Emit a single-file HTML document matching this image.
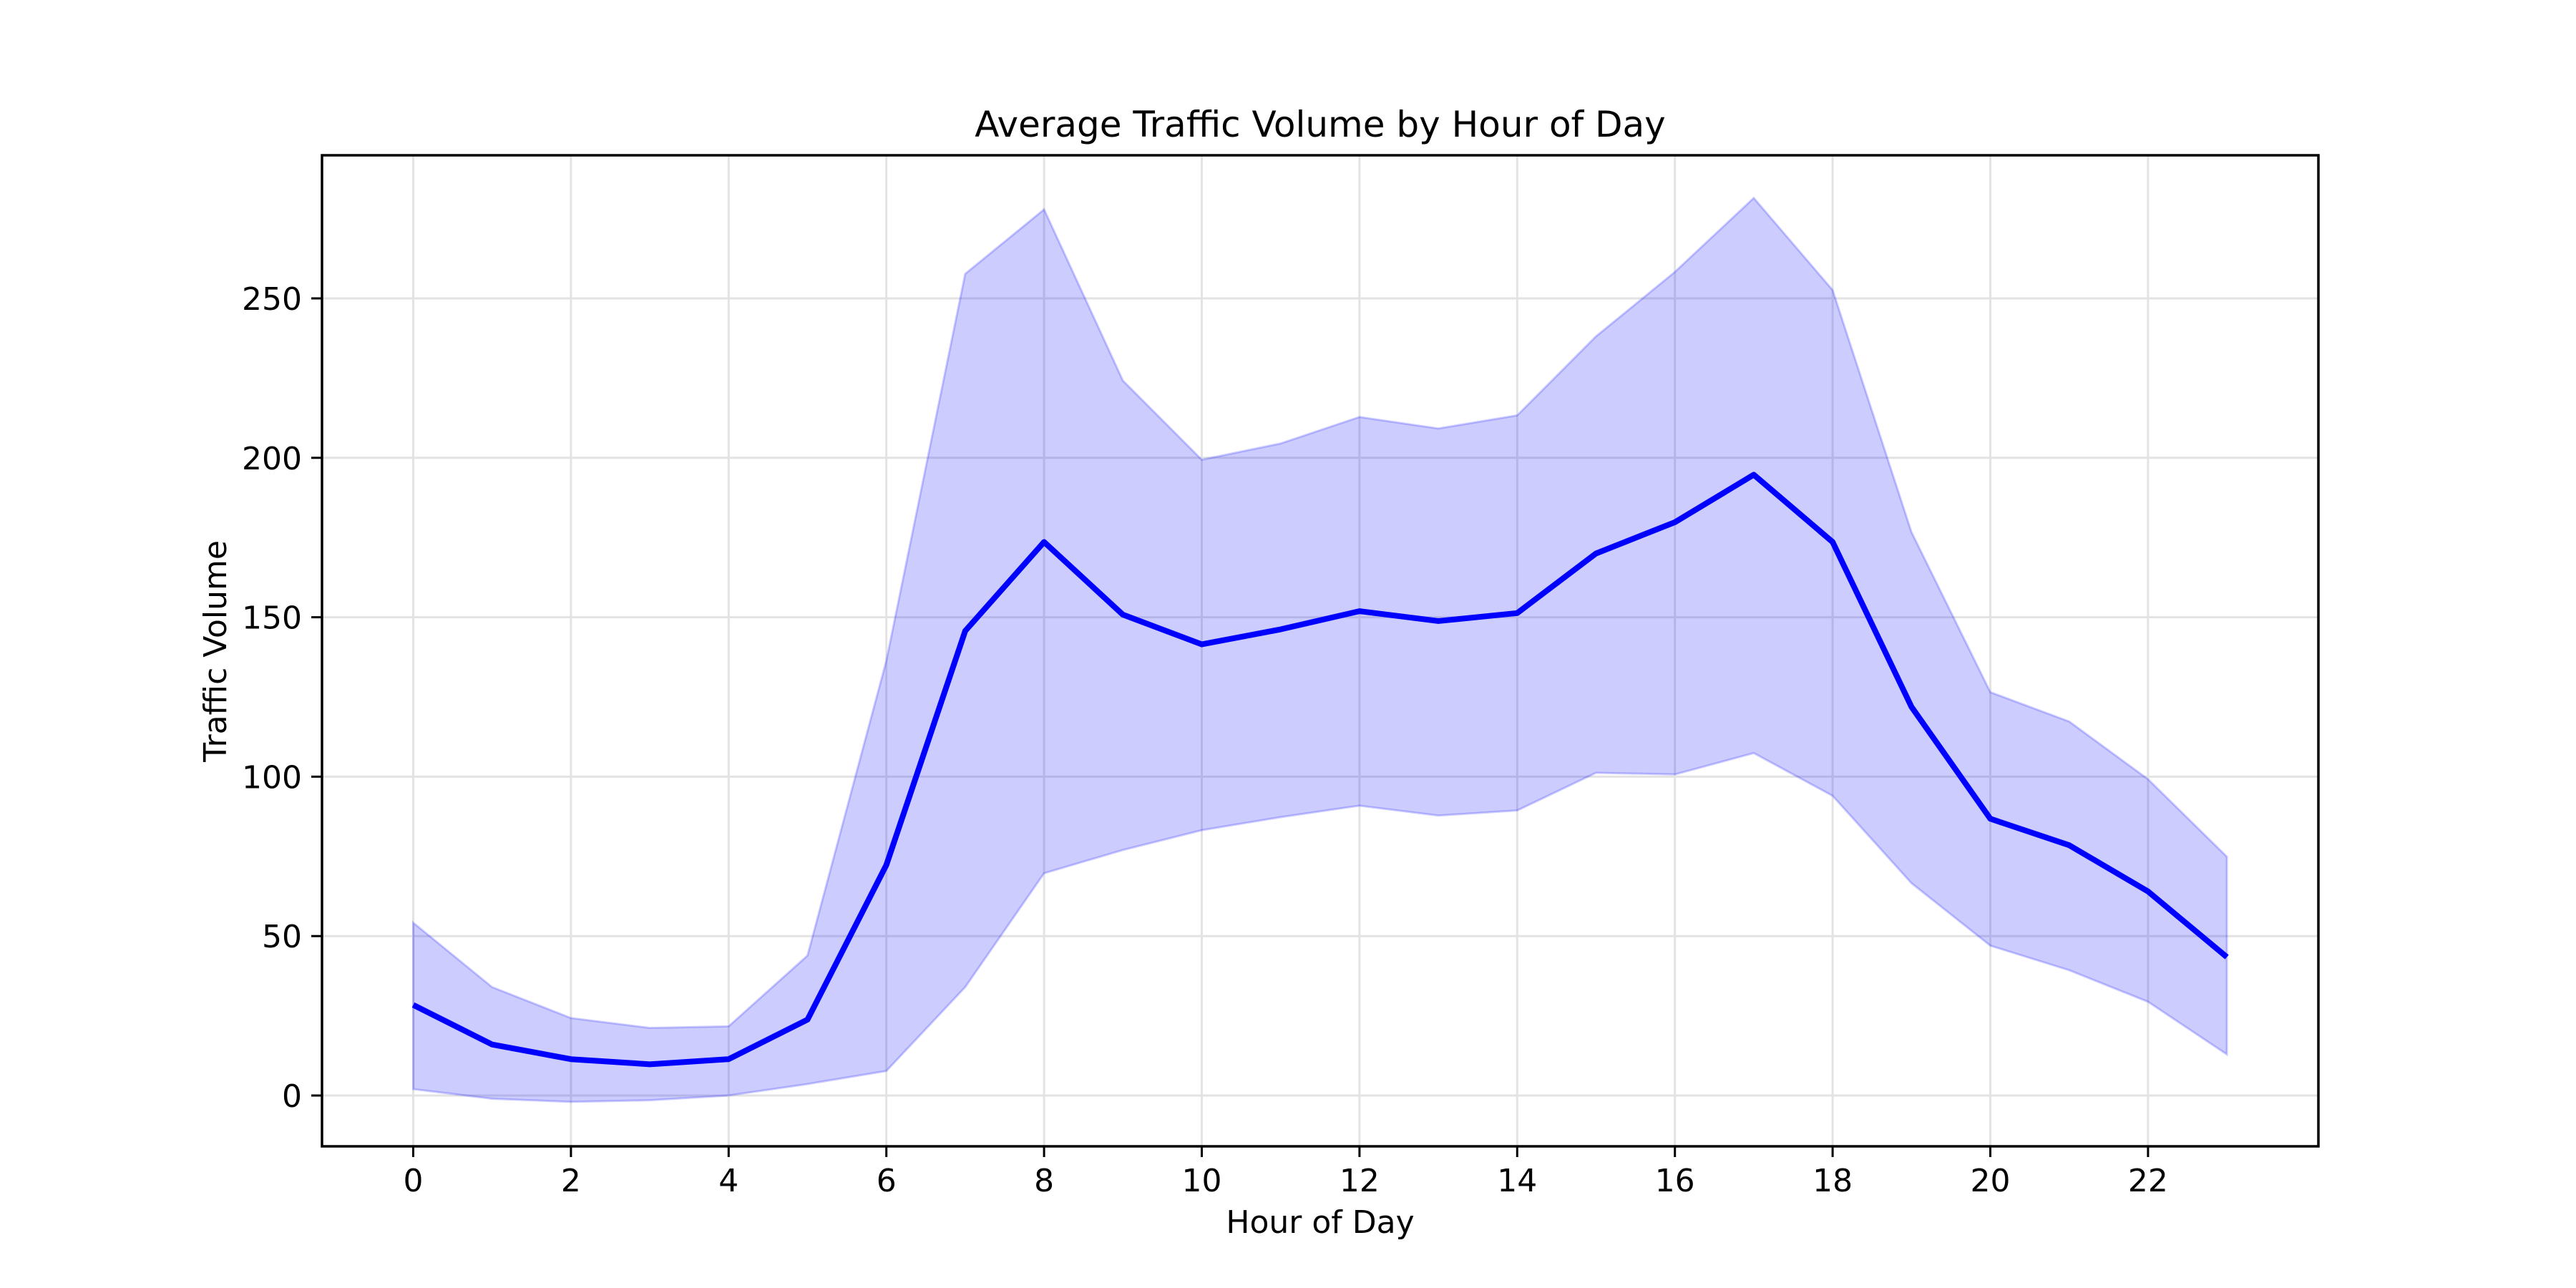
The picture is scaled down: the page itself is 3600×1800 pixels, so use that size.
<!DOCTYPE html>
<html><head><meta charset="utf-8"><style>
html,body{margin:0;padding:0;background:#fff;}
svg{display:block;font-family:"DejaVu Sans","Liberation Sans",sans-serif;}
</style></head><body>
<svg id="chart" width="3600" height="1800" viewBox="0 0 3600 1800" xmlns="http://www.w3.org/2000/svg">
<rect x="0" y="0" width="3600" height="1800" fill="#fff"/>
<g id="grid"></g>
<g id="plot"></g>
<rect x="450" y="217" width="2790" height="1385" fill="none" stroke="#000" stroke-width="3.5"/>
<g id="ticks"></g>
<text x="1845" y="191" font-size="50" text-anchor="middle">Average Traffic Volume by Hour of Day</text>
<text x="1845" y="1723" font-size="44" text-anchor="middle">Hour of Day</text>
<text x="316" y="910" font-size="44" text-anchor="middle" transform="rotate(-90 316 910)">Traffic Volume</text>
</svg>
<script>
const hours = [0,1,2,3,4,5,6,7,8,9,10,11,12,13,14,15,16,17,18,19,20,21,22,23];
const meanVals = [28.4,16,11.4,9.8,11.4,23.8,72.3,145.7,173.6,150.8,141.5,146.2,151.9,148.8,151.3,170,179.8,194.7,173.6,121.9,86.8,78.5,64,43.4];
const upperVals = [54.2,34,24.3,21.2,21.7,43.9,136.4,257.7,277.9,224.2,199.4,204.5,212.8,209.2,213.3,238.1,258.3,281.5,252.6,176.7,126.5,117.3,99.2,74.9];
const lowerVals = [2,-1,-2,-1.5,0,3.6,7.7,34,69.7,77,83.2,87.3,90.9,87.8,89.4,101.2,100.7,107.4,94,66.6,47,39.3,29.4,12.9];
const xTicks = [0,2,4,6,8,10,12,14,16,18,20,22];
const yTicks = [0,50,100,150,200,250];

const NS = "http://www.w3.org/2000/svg";
const L = 450, R = 3240, T = 217, B = 1602;
function xs(h){ return 577.5 + h * 110.2; }
function ys(v){ return 1531 - v * 4.456; }
function mk(tag, attrs, parent){
  const e = document.createElementNS(NS, tag);
  for (const k in attrs) e.setAttribute(k, attrs[k]);
  parent.appendChild(e);
  return e;
}
const grid = document.getElementById('grid');
const plot = document.getElementById('plot');
const ticks = document.getElementById('ticks');

xTicks.forEach(t => {
  const x = xs(t);
  const g = mk('line', {x1:x, x2:x, y1:T, y2:B, stroke:'#e3e3e3', 'stroke-width':3}, grid);
  
  
  const tk = mk('line', {x1:x, x2:x, y1:B, y2:B+15, stroke:'#000', 'stroke-width':3}, ticks);
  
  
  const tx = mk('text', {x:x, y:B+63, 'font-size':44, 'text-anchor':'middle'}, ticks);
  tx.textContent = t;
  
  
});
yTicks.forEach(t => {
  const y = ys(t);
  const g = mk('line', {x1:L, x2:R, y1:y, y2:y, stroke:'#e3e3e3', 'stroke-width':3}, grid);
  
  
  const tk = mk('line', {x1:L-15, x2:L, y1:y, y2:y, stroke:'#000', 'stroke-width':3}, ticks);
  
  
  const tx = mk('text', {x:L-28, y:y+16, 'font-size':44, 'text-anchor':'end'}, ticks);
  tx.textContent = t;
  
  
});

let d = '';
hours.forEach((h,i) => { d += (i ? 'L' : 'M') + xs(h) + ',' + ys(upperVals[i]); });
for (let i = hours.length - 1; i >= 0; i--) d += 'L' + xs(hours[i]) + ',' + ys(lowerVals[i]);
d += 'Z';
const band = mk('path', {d:d, fill:'rgba(0,0,255,0.2)', stroke:'rgba(0,0,255,0.2)', 'stroke-width':3}, plot);



const pts = hours.map((h,i) => xs(h) + ',' + ys(meanVals[i])).join(' ');
const line = mk('polyline', {points:pts, fill:'none', stroke:'#0000ff', 'stroke-width':8, 'stroke-linejoin':'round'}, plot);


</script>
</body></html>
